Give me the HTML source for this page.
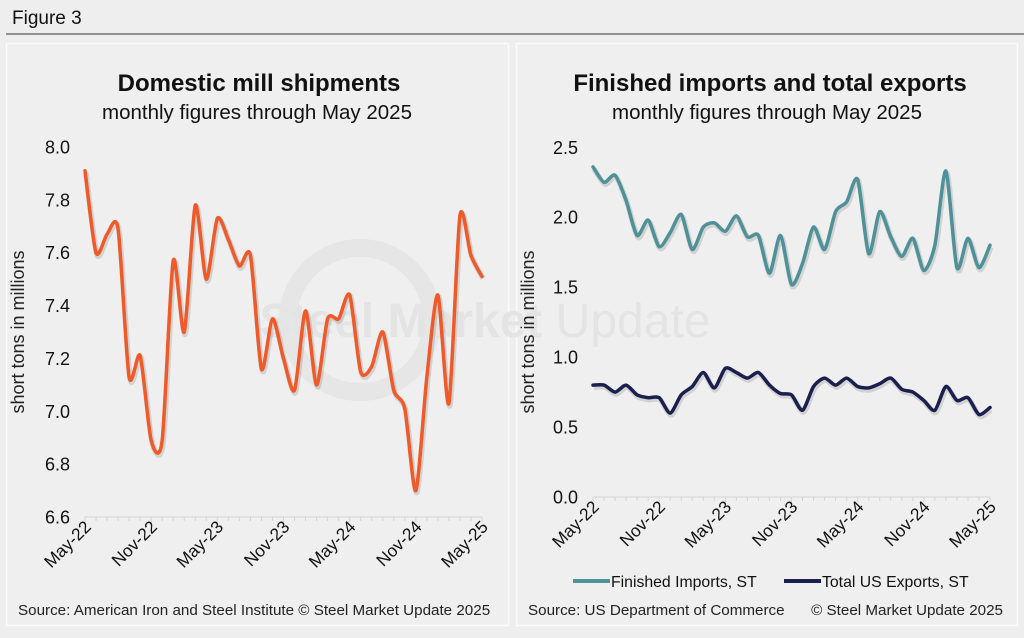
<!DOCTYPE html>
<html><head><meta charset="utf-8"><style>
body{margin:0;background:#eeeeee;width:1024px;height:633px;overflow:hidden;font-family:"Liberation Sans",Arial,sans-serif;}
svg text{font-family:"Liberation Sans",Arial,sans-serif;}
</style></head><body>
<svg id="c" width="1024" height="633" xmlns="http://www.w3.org/2000/svg">
<rect x="0" y="0" width="1024" height="633" fill="#eeeeee"/>
<text x="12" y="24" font-size="19" fill="#111">Figure 3</text>
<line x1="6" y1="34" x2="1024" y2="34" stroke="#333" stroke-width="1"/>
<rect x="6.5" y="43.5" width="502" height="582" fill="#efefef" stroke="#fafafa" stroke-width="1.5"/>
<rect x="516.5" y="43.5" width="501" height="582" fill="#efefef" stroke="#fafafa" stroke-width="1.5"/>
<text x="259" y="91" font-size="24" font-weight="bold" text-anchor="middle" fill="#111">Domestic mill shipments</text>
<text x="257" y="119" font-size="20.5" text-anchor="middle" fill="#111">monthly figures through May 2025</text>
<text x="770" y="91" font-size="24" font-weight="bold" text-anchor="middle" fill="#111">Finished imports and total exports</text>
<text x="767" y="119" font-size="20.5" text-anchor="middle" fill="#111">monthly figures through May 2025</text>
<circle cx="360" cy="320" r="72" fill="none" stroke="#e6e6e6" stroke-width="18"/>
<text x="485" y="337" font-size="48" fill="#e4e4e4" text-anchor="middle"><tspan font-weight="bold">Steel Market</tspan> Update</text>
<text transform="translate(24,332) rotate(-90)" font-size="18" text-anchor="middle" fill="#222">short tons in millions</text>
<text transform="translate(534,332) rotate(-90)" font-size="18" text-anchor="middle" fill="#222">short tons in millions</text>
<g id="L"></g><g id="R"></g>
<line x1="573" y1="581" x2="610" y2="581" stroke="#4f9198" stroke-width="4"/>
<text x="611" y="587" font-size="15.8" fill="#111">Finished Imports, ST</text>
<line x1="784" y1="581" x2="821" y2="581" stroke="#1a1f4d" stroke-width="4"/>
<text x="822" y="587" font-size="15.8" fill="#111">Total US Exports, ST</text>
<text x="18" y="615" font-size="15.2" fill="#222">Source: American Iron and Steel Institute  © Steel Market Update 2025</text>
<text x="528" y="615" font-size="15.2" fill="#222">Source: US Department of Commerce</text>
<text x="1003" y="615" font-size="15.2" fill="#222" text-anchor="end">© Steel Market Update 2025</text>
</svg>
<script>
const months=["May-22","Nov-22","May-23","Nov-23","May-24","Nov-24","May-25"];
const shipments=[7.91,7.60,7.67,7.69,7.13,7.21,6.89,6.89,7.57,7.30,7.78,7.50,7.73,7.65,7.55,7.59,7.16,7.35,7.20,7.08,7.38,7.10,7.35,7.35,7.44,7.15,7.17,7.30,7.08,7.01,6.70,7.13,7.44,7.03,7.74,7.59,7.51];
const imports=[2.36,2.25,2.30,2.12,1.87,1.98,1.79,1.89,2.02,1.77,1.93,1.96,1.90,2.01,1.86,1.87,1.60,1.87,1.52,1.67,1.93,1.77,2.04,2.11,2.27,1.74,2.04,1.86,1.72,1.85,1.62,1.80,2.33,1.64,1.85,1.64,1.80];
const exportsV=[0.80,0.80,0.75,0.80,0.73,0.71,0.71,0.60,0.73,0.79,0.89,0.78,0.92,0.89,0.85,0.89,0.80,0.74,0.73,0.62,0.79,0.85,0.80,0.85,0.79,0.78,0.81,0.85,0.77,0.75,0.69,0.62,0.79,0.69,0.71,0.59,0.64];
const leftTicks=[6.6,6.8,7.0,7.2,7.4,7.6,7.8,8.0];
const rightTicks=[0.0,0.5,1.0,1.5,2.0,2.5];
const NS="http://www.w3.org/2000/svg";
function mk(tag,attrs,parent){const e=document.createElementNS(NS,tag);for(const k in attrs)e.setAttribute(k,attrs[k]);parent.appendChild(e);return e;}
function smooth(pts){let d="M"+pts[0][0]+","+pts[0][1];const k=8;for(let i=0;i<pts.length-1;i++){const p0=pts[i-1]||pts[i],p1=pts[i],p2=pts[i+1],p3=pts[i+2]||p2;const c1=[p1[0]+(p2[0]-p0[0])/k,p1[1]+(p2[1]-p0[1])/k],c2=[p2[0]-(p3[0]-p1[0])/k,p2[1]-(p3[1]-p1[1])/k];d+=" C"+c1[0]+","+c1[1]+" "+c2[0]+","+c2[1]+" "+p2[0]+","+p2[1];}return d;}
function chart(g,x0,x1,y0,y1,vmin,vmax,ticks,series,labelX){
  const n=shipments.length;
  const xs=i=>x0+(x1-x0)*i/(n-1);
  const ys=v=>y0-(v-vmin)/(vmax-vmin)*(y0-y1);
  ticks.forEach(t=>{const tx=mk("text",{x:labelX,y:ys(t)+6.5,"font-size":18,"text-anchor":"end",fill:"#111"},g);tx.textContent=t.toFixed(1);
    
    });
  const ax=mk("line",{x1:x0,y1:y0,x2:x1,y2:y0,stroke:"#d4d4d4","stroke-width":1},g);
  
  
  for(let i=0;i<n;i++){mk("line",{x1:xs(i),y1:y0,x2:xs(i),y2:y0+(i%6==0?5:4),stroke:"#d4d4d4"},g);}
  months.forEach((m,k)=>{const cx=xs(k*6);const tx=mk("text",{transform:"translate("+(cx+7)+","+(y0+11)+") rotate(-45)","font-size":17.3,"text-anchor":"end",fill:"#111"},g);tx.textContent=m;
    
    });
  series.forEach(s=>{const pts=s.vals.map((v,i)=>[xs(i),ys(v)]);
    mk("path",{d:smooth(pts),fill:"none",stroke:"rgba(0,0,0,0.12)","stroke-width":s.w+2,transform:"translate(1,2)","stroke-linejoin":"round"},g);
    const p=mk("path",{d:smooth(pts),fill:"none",stroke:s.c,"stroke-width":s.w,"stroke-linejoin":"round","stroke-linecap":"round"},g);
    
    });
}
chart(document.getElementById("L"),85,482,517,147,6.6,8.0,leftTicks,[{vals:shipments,c:"#f05a28",w:3.5,name:"shipments-line"}],70);
chart(document.getElementById("R"),593,990,497,147.3,0,2.5,rightTicks,[{vals:imports,c:"#4f9198",w:3.5,name:"imports-line"},{vals:exportsV,c:"#1a1f4d",w:3.5,name:"exports-line"}],578);
</script>
</body></html>
